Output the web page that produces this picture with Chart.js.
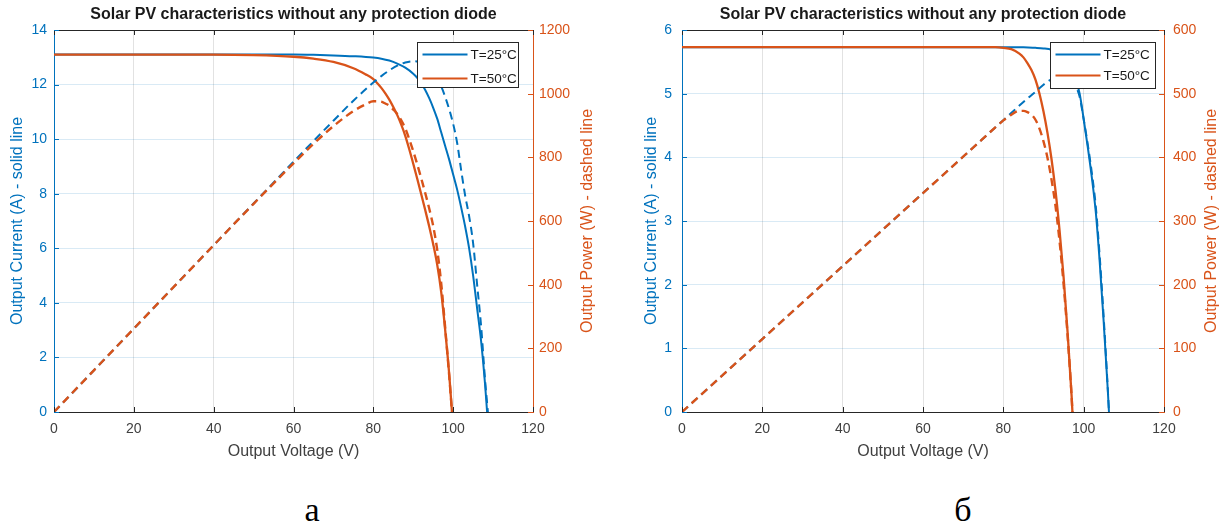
<!DOCTYPE html>
<html>
<head>
<meta charset="utf-8">
<script src="https://cdn.jsdelivr.net/npm/chart.js@4/dist/chart.umd.min.js"></script>
<style>
html,body{margin:0;padding:0;background:#fff;width:1230px;height:529px;overflow:hidden;}
.wrap{position:absolute;top:0;width:610px;height:470px;}
#wa{left:0px;} #wb{left:620px;}
.lab{position:absolute;top:493px;font-family:"Liberation Serif","Times New Roman",serif;font-size:34px;line-height:34px;color:#000;transform:translateX(-50%);}
</style>
</head>
<body>
<div class="wrap" id="wa"><canvas id="ca" width="610" height="470"></canvas></div>
<div class="wrap" id="wb"><canvas id="cb" width="610" height="470"></canvas></div>
<div class="lab" style="left:312px">а</div>
<div class="lab" style="left:963px">б</div>
<script>
// ---------- data ----------
const chartTitle = 'Solar PV characteristics without any protection diode';
const xTitle = 'Output Voltage (V)';
const leftTitle = 'Output Current (A) - solid line';
const rightTitle = 'Output Power (W) - dashed line';
const seriesLabels = ['T=25°C', 'T=50°C'];
const xTicks = [0, 20, 40, 60, 80, 100, 120];

// Chart а
const leftTicksA = [0, 2, 4, 6, 8, 10, 12, 14];
const rightTicksA = [0, 200, 400, 600, 800, 1000, 1200];
const voltA25 = [0, 10, 20, 30, 40, 50, 60, 65, 70, 75, 80, 82, 84, 86, 88, 90, 91, 92, 93, 94, 95, 96, 97, 98, 99, 100, 101, 102, 103, 104, 105, 106, 107, 108, 108.5];
const currA25 = [13.1, 13.1, 13.1, 13.1, 13.1, 13.1, 13.1, 13.09, 13.07, 13.04, 12.99, 12.95, 12.88, 12.77, 12.62, 12.4, 12.25, 12.05, 11.8, 11.5, 11.15, 10.75, 10.25, 9.75, 9.25, 8.7, 8.15, 7.5, 6.8, 6.0, 5.0, 3.8, 2.6, 1.0, 0];
const voltA25p = [0, 10, 20, 30, 40, 50, 60, 65, 70, 75, 80, 82, 84, 86, 88, 90, 92, 94, 96, 98, 100, 101, 102, 103, 104, 105, 106, 107, 108, 108.7];
const powA25 = [0, 131, 262, 393, 524, 655, 786, 851, 915, 978, 1035, 1055, 1073, 1088, 1098, 1102, 1098, 1082, 1050, 990, 905, 845, 760, 680, 615, 530, 400, 270, 100, 0];
const voltA50 = [0, 10, 20, 30, 40, 50, 60, 65, 70, 75, 78, 80, 81, 82, 83, 84, 85, 86, 87, 88, 89, 90, 91, 92, 93, 94, 95, 96, 97, 98, 99, 99.7];
const currA50 = [13.1, 13.1, 13.1, 13.1, 13.1, 13.08, 13.02, 12.95, 12.83, 12.6, 12.38, 12.2, 12.05, 11.88, 11.68, 11.45, 11.18, 10.88, 10.53, 10.12, 9.63, 9.1, 8.55, 7.98, 7.4, 6.8, 6.15, 5.4, 4.4, 3.0, 1.4, 0];
const powA50 = [0, 131, 262, 393, 524, 654, 781, 842, 898, 945, 966, 976, 976, 975, 969, 962, 950, 936, 916, 891, 857, 819, 778, 734, 688, 639, 584, 510, 405, 265, 115, 0];

// Chart б
const leftTicksB = [0, 1, 2, 3, 4, 5, 6];
const rightTicksB = [0, 100, 200, 300, 400, 500, 600];
const voltB25 = [0, 10, 20, 30, 40, 50, 60, 70, 80, 85, 88, 90, 92, 94, 96, 97, 98, 99, 100, 101, 102, 103, 104, 105, 106, 106.3];
const currB25 = [5.73, 5.73, 5.73, 5.73, 5.73, 5.73, 5.73, 5.73, 5.73, 5.73, 5.72, 5.71, 5.69, 5.64, 5.5, 5.4, 5.22, 5.0, 4.6, 4.17, 3.7, 3.15, 2.35, 1.4, 0.35, 0];
const powB25 = [0, 57.3, 114.6, 171.9, 229.2, 286.5, 343.8, 401.1, 458.4, 487, 503, 514, 523, 530, 528, 524, 512, 495, 460, 421, 377, 324, 244, 147, 37, 0];
const voltB50 = [0, 10, 20, 30, 40, 50, 60, 70, 75, 78, 80, 82, 84, 85, 86, 87, 88, 89, 90, 91, 92, 93, 94, 95, 96, 97, 97.2];
const currB50 = [5.73, 5.73, 5.73, 5.73, 5.73, 5.73, 5.73, 5.73, 5.73, 5.73, 5.72, 5.70, 5.63, 5.57, 5.48, 5.37, 5.22, 5.0, 4.72, 4.38, 3.97, 3.47, 2.85, 2.12, 1.25, 0.25, 0];
const powB50 = [0, 57.3, 114.6, 171.9, 229.2, 286.5, 343.8, 401.1, 429.8, 447, 458, 467, 473, 473, 471, 467, 459, 445, 425, 399, 365, 323, 268, 201, 120, 24, 0];

// ---------- styling ----------
const BLUE = '#0072BD', ORANGE = '#D95319', DARK = '#262626', TXT = '#404040';
const FONT = '"Liberation Sans", Arial, Helvetica, sans-serif';

function pts(xs, ys) { return xs.map((x, i) => ({ x: x, y: ys[i] })); }

const decorPlugin = {
  id: 'decor',
  afterDraw(chart, args, o) {
    const { ctx, chartArea: a, scales } = chart;
    ctx.save();
    ctx.setLineDash([]);
    ctx.lineWidth = 1;
    ctx.strokeStyle = DARK;
    ctx.beginPath(); ctx.moveTo(a.left, a.top + 0.5); ctx.lineTo(a.right, a.top + 0.5); ctx.stroke();
    const TL = 5;
    scales.x.ticks.forEach(t => {
      const px = Math.round(scales.x.getPixelForValue(t.value)) + 0.5;
      ctx.beginPath();
      ctx.moveTo(px, a.bottom); ctx.lineTo(px, a.bottom - TL);
      ctx.moveTo(px, a.top); ctx.lineTo(px, a.top + TL);
      ctx.stroke();
    });
    ctx.strokeStyle = BLUE;
    scales.y.ticks.forEach(t => {
      const py = Math.round(scales.y.getPixelForValue(t.value)) + 0.5;
      ctx.beginPath(); ctx.moveTo(a.left, py); ctx.lineTo(a.left + TL, py); ctx.stroke();
    });
    ctx.strokeStyle = ORANGE;
    scales.y1.ticks.forEach(t => {
      const py = Math.round(scales.y1.getPixelForValue(t.value)) + 0.5;
      ctx.beginPath(); ctx.moveTo(a.right, py); ctx.lineTo(a.right - TL, py); ctx.stroke();
    });
    ctx.fillStyle = '#1a1a1a';
    ctx.font = 'bold 16px ' + FONT;
    ctx.textAlign = 'center';
    ctx.textBaseline = 'middle';
    ctx.fillText(o.title, (a.left + a.right) / 2, o.titleY);
    ctx.translate(o.rightTitleX, (a.top + a.bottom) / 2);
    ctx.rotate(-Math.PI / 2);
    ctx.fillStyle = ORANGE;
    ctx.font = '16px ' + FONT;
    ctx.fillText(o.rightTitle, 0, 0);
    ctx.restore();
  }
};

const boxLegendPlugin = {
  id: 'boxLegend',
  afterDraw(chart, args, o) {
    const { ctx, chartArea: a } = chart;
    const x0 = Math.round(a.right - o.right - o.width) + 0.5;
    const y0 = Math.round(a.top + o.top) + 0.5;
    ctx.save();
    ctx.setLineDash([]);
    ctx.fillStyle = '#fff';
    ctx.fillRect(x0, y0, o.width, o.height);
    ctx.strokeStyle = DARK; ctx.lineWidth = 1;
    ctx.strokeRect(x0, y0, o.width, o.height);
    ctx.font = o.fontSize + 'px ' + FONT;
    ctx.textBaseline = 'middle';
    ctx.textAlign = 'left';
    o.items.forEach((idx, i) => {
      const ds = chart.data.datasets[idx];
      const y = y0 + o.firstRow + i * o.rowGap;
      ctx.strokeStyle = ds.borderColor; ctx.lineWidth = 2;
      ctx.beginPath(); ctx.moveTo(x0 + o.padLeft, y); ctx.lineTo(x0 + o.padLeft + o.lineLen, y); ctx.stroke();
      ctx.fillStyle = '#1a1a1a';
      ctx.fillText(ds.label, x0 + o.padLeft + o.lineLen + o.gap, y + 0.5);
    });
    ctx.restore();
  }
};

function makeChart(id, c) {
  const line = (label, xs, ys, axis, color, dashed, order, width) => ({
    label: label, data: pts(xs, ys), yAxisID: axis,
    borderColor: color, backgroundColor: color, borderWidth: width,
    borderDash: dashed ? [8, 5] : [], pointRadius: 0, fill: false,
    cubicInterpolationMode: 'monotone', order: order
  });
  return new Chart(document.getElementById(id), {
    type: 'line',
    data: {
      datasets: [
        line(seriesLabels[0], c.v25, c.i25, 'y', BLUE, false, 3, 2),
        line(seriesLabels[1], c.v50, c.i50, 'y', ORANGE, false, 2, 2.3),
        line(seriesLabels[0] + ' power', c.v25p, c.p25, 'y1', BLUE, true, 1, 2),
        line(seriesLabels[1] + ' power', c.v50, c.p50, 'y1', ORANGE, true, 0, 2.4)
      ]
    },
    plugins: [decorPlugin, boxLegendPlugin],
    options: {
      responsive: false,
      animation: false,
      layout: { padding: { top: 30, left: 0, right: 0, bottom: 0 } },
      plugins: {
        legend: { display: false },
        title: { display: false },
        tooltip: { enabled: false },
        decor: { title: chartTitle, titleY: 15, rightTitle: rightTitle, rightTitleX: c.rightTitleX },
        boxLegend: c.legend
      },
      scales: {
        x: {
          type: 'linear', position: 'bottom', min: 0, max: 120,
          afterBuildTicks: s => { s.ticks = xTicks.map(v => ({ value: v })); },
          afterFit: s => { s.height = 58; },
          grid: { color: '#e2e2e2', lineWidth: 1, drawTicks: false },
          border: { color: DARK, width: 1 },
          ticks: { color: TXT, font: { family: FONT, size: 14 }, padding: 9, maxRotation: 0, autoSkip: false, callback: v => String(v) },
          title: { display: true, text: xTitle, color: TXT, font: { family: FONT, size: 16 }, padding: { top: 0, bottom: 8.4 } }
        },
        y: {
          type: 'linear', position: 'left', min: 0, max: c.yMax,
          afterBuildTicks: s => { s.ticks = c.leftTicks.map(v => ({ value: v })); },
          afterFit: s => { s.width = c.leftW; },
          grid: { color: 'rgba(0,114,189,0.15)', lineWidth: 1, drawTicks: false },
          border: { color: BLUE, width: 1 },
          ticks: { color: BLUE, font: { family: FONT, size: 14 }, padding: c.leftPad, autoSkip: false, callback: v => String(v) },
          title: { display: true, text: leftTitle, color: BLUE, font: { family: FONT, size: 16 }, padding: { top: c.leftTitlePad, bottom: 0 } }
        },
        y1: {
          type: 'linear', position: 'right', min: 0, max: c.y1Max,
          afterBuildTicks: s => { s.ticks = c.rightTicks.map(v => ({ value: v })); },
          afterFit: s => { s.width = c.rightW; },
          grid: { display: false, drawTicks: false },
          border: { display: true, color: ORANGE, width: 1 },
          ticks: { color: ORANGE, font: { family: FONT, size: 14 }, padding: c.rightPad, autoSkip: false, callback: v => String(v) },
          title: { display: false }
        }
      }
    }
  });
}

makeChart('ca', {
  v25: voltA25, i25: currA25, v25p: voltA25p, p25: powA25, v50: voltA50, i50: currA50, p50: powA50,
  leftTicks: leftTicksA, rightTicks: rightTicksA,
  yMax: leftTicksA[leftTicksA.length - 1], y1Max: rightTicksA[rightTicksA.length - 1],
  leftW: 54, rightW: 77, leftPad: 7, rightPad: 6, leftTitlePad: 8.4, rightTitleX: 588,
  legend: { items: [0, 1], right: 15, top: 12, width: 101, height: 45, firstRow: 12, rowGap: 24, padLeft: 5, lineLen: 45, gap: 3, fontSize: 13.5 }
});
makeChart('cb', {
  v25: voltB25, i25: currB25, v25p: voltB25, p25: powB25, v50: voltB50, i50: currB50, p50: powB50,
  leftTicks: leftTicksB, rightTicks: rightTicksB,
  yMax: leftTicksB[leftTicksB.length - 1], y1Max: rightTicksB[rightTicksB.length - 1],
  leftW: 62, rightW: 66, leftPad: 10, rightPad: 9, leftTitlePad: 22.4, rightTitleX: 592,
  legend: { items: [0, 1], right: 9, top: 12, width: 105, height: 46, firstRow: 12, rowGap: 21, padLeft: 5, lineLen: 45, gap: 3, fontSize: 13.5 }
});
</script>
</body>
</html>
